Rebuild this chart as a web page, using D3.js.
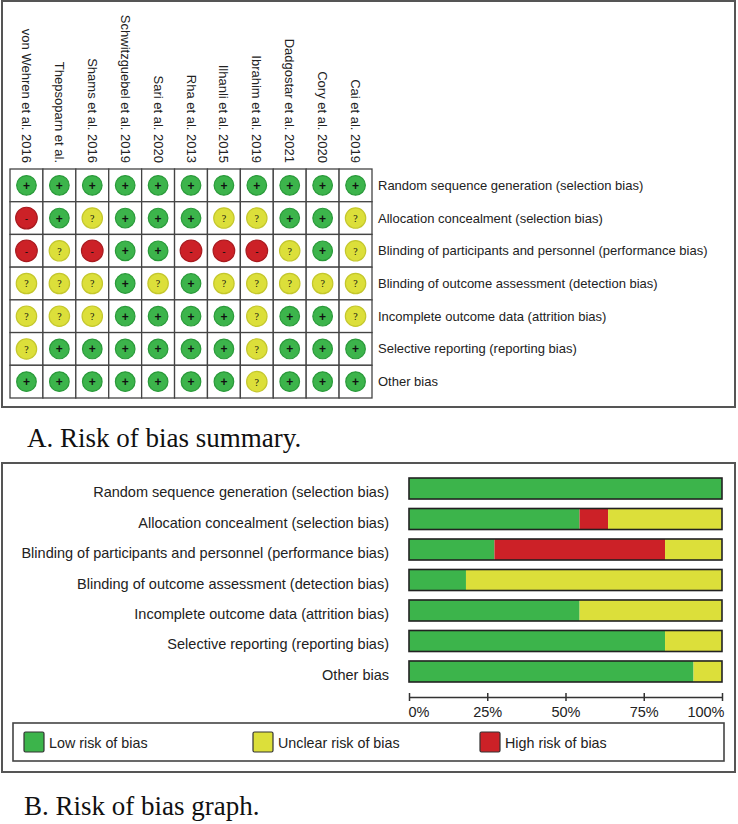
<!DOCTYPE html>
<html>
<head>
<meta charset="utf-8">
<script src="https://cdn.jsdelivr.net/npm/d3@7/dist/d3.min.js"></script>
<style>
  html, body { margin: 0; padding: 0; background: #fff; }
  svg { display: block; }
</style>
</head>
<body>
<svg id="chart" width="738" height="824"></svg>
<script>
const studies = [
  'von Wehren et al. 2016', 'Thepsoparn et al.', 'Shams et al. 2016',
  'Schwitzguebel et al. 2019', 'Sari et al. 2020', 'Rha et al. 2013',
  'Ilhanli et al. 2015', 'Ibrahim et al. 2019', 'Dadgostar et al. 2021',
  'Cory et al. 2020', 'Cai et al. 2019'
];

const domains = [
  'Random sequence generation (selection bias)',
  'Allocation concealment (selection bias)',
  'Blinding of participants and personnel (performance bias)',
  'Blinding of outcome assessment (detection bias)',
  'Incomplete outcome data (attrition bias)',
  'Selective reporting (reporting bias)',
  'Other bias'
];

// one row per domain, one entry per study: + low, ? unclear, - high
const judgements = [
  ['+', '+', '+', '+', '+', '+', '+', '+', '+', '+', '+'],
  ['-', '+', '?', '+', '+', '+', '?', '?', '+', '+', '?'],
  ['-', '?', '-', '+', '+', '-', '-', '-', '?', '+', '?'],
  ['?', '?', '?', '+', '?', '+', '?', '?', '?', '?', '?'],
  ['?', '?', '?', '+', '+', '+', '+', '?', '+', '+', '?'],
  ['?', '+', '+', '+', '+', '+', '+', '?', '+', '+', '+'],
  ['+', '+', '+', '+', '+', '+', '+', '?', '+', '+', '+']
];

// percentages
const lowPct     = [100, 54.5, 27.3, 18.2, 54.5, 81.8, 90.9];
const highPct    = [0,    9.1, 54.5,  0,    0,    0,    0  ];
const unclearPct = [0,   36.4, 18.2, 81.8, 45.5, 18.2,  9.1];

const axisTicks  = [0, 25, 50, 75, 100];
const legendKeys = ['Low risk of bias', 'Unclear risk of bias', 'High risk of bias'];

const GREEN = '#3cb44b', YELLOW = '#dcdf3a', RED = '#cc2127';
const SANS  = 'Arial, "Liberation Sans", sans-serif';
const SERIF = '"Times New Roman", "Liberation Serif", serif';

const svg = d3.select('#chart');

// ---------- A. summary ----------
const gA = svg.append('g');

gA.append('rect')
  .attr('x', 2).attr('y', 1).attr('width', 733).attr('height', 406)
  .attr('fill', 'none').attr('stroke', '#555').attr('stroke-width', 2);

const xs = d3.scaleBand().domain(studies).range([10, 372]);
const ys = d3.scaleBand().domain(domains).range([169, 398]);

gA.selectAll('.study')
  .data(studies)
  .join('text')
  .attr('class', 'study')
  .attr('transform', d => `translate(${xs(d) + xs.bandwidth() / 2},163) rotate(90)`)
  .attr('text-anchor', 'end')
  .attr('dominant-baseline', 'central')
  .attr('font-family', SANS).attr('font-size', 13).attr('fill', '#222')
  .text(d => d);

const cells = judgements.flatMap((row, i) =>
  row.map((j, k) => ({ domain: domains[i], study: studies[k], j })));

const symColor = { '+': GREEN, '?': YELLOW, '-': RED };
const symRim   = { '+': '#2a9a3a', '?': '#c4c72c', '-': '#a81a1f' };
const symR     = { '+': 9.8, '?': 10.2, '-': 10.8 };

const cellG = gA.selectAll('.cell')
  .data(cells)
  .join('g')
  .attr('class', 'cell')
  .attr('transform', d => `translate(${xs(d.study)},${ys(d.domain)})`);

cellG.append('rect')
  .attr('width', xs.bandwidth()).attr('height', ys.bandwidth())
  .attr('fill', '#fff').attr('stroke', '#444').attr('stroke-width', 1.3);

cellG.append('circle')
  .attr('cx', xs.bandwidth() / 2).attr('cy', ys.bandwidth() / 2)
  .attr('r', d => symR[d.j])
  .attr('fill', d => symColor[d.j])
  .attr('stroke', d => symRim[d.j]).attr('stroke-width', 1.2);

cellG.append('text')
  .attr('x', xs.bandwidth() / 2).attr('y', ys.bandwidth() / 2 + 0.5)
  .attr('text-anchor', 'middle').attr('dominant-baseline', 'central')
  .attr('font-family', d => d.j === '?' ? SERIF : SANS)
  .attr('font-weight', d => d.j === '+' ? 'bold' : 'normal')
  .attr('font-size', d => d.j === '+' ? 12 : 10)
  .attr('fill', '#111')
  .text(d => d.j);

gA.selectAll('.dom')
  .data(domains)
  .join('text')
  .attr('class', 'dom')
  .attr('x', 378).attr('y', d => ys(d) + ys.bandwidth() / 2)
  .attr('dominant-baseline', 'central')
  .attr('font-family', SANS).attr('font-size', 13).attr('fill', '#222')
  .text(d => d);

svg.append('text')
  .attr('x', 27).attr('y', 447)
  .attr('font-family', SERIF).attr('font-size', 27).attr('fill', '#111')
  .text('A. Risk of bias summary.');

// ---------- B. graph ----------
const gB = svg.append('g');

gB.append('rect')
  .attr('x', 2).attr('y', 463).attr('width', 733).attr('height', 309)
  .attr('fill', 'none').attr('stroke', '#555').attr('stroke-width', 2);

const xb = d3.scaleLinear().domain([0, 100]).range([409, 722]);
const yb = d3.scaleBand().domain(domains).range([473.25, 686.75])
  .paddingInner(0.311).paddingOuter(0.156);

const segs = domains.flatMap((d, i) => {
  const parts = [[lowPct[i], GREEN], [highPct[i], RED], [unclearPct[i], YELLOW]];
  let acc = 0;
  return parts.filter(p => p[0] > 0).map(([v, c]) => {
    const s = { domain: d, x0: acc, x1: acc + v, color: c };
    acc += v;
    return s;
  });
});

gB.selectAll('.seg')
  .data(segs)
  .join('rect')
  .attr('class', 'seg')
  .attr('x', d => xb(d.x0)).attr('y', d => yb(d.domain))
  .attr('width', d => xb(d.x1) - xb(d.x0)).attr('height', yb.bandwidth())
  .attr('fill', d => d.color);

gB.selectAll('.barframe')
  .data(domains)
  .join('rect')
  .attr('class', 'barframe')
  .attr('x', xb(0)).attr('y', d => yb(d))
  .attr('width', xb(100) - xb(0)).attr('height', yb.bandwidth())
  .attr('fill', 'none').attr('stroke', '#222').attr('stroke-width', 1.6);

gB.selectAll('.blab')
  .data(domains)
  .join('text')
  .attr('class', 'blab')
  .attr('x', 389).attr('y', d => yb(d) + yb.bandwidth() / 2 + 8.5)
  .attr('text-anchor', 'end')
  .attr('font-family', SANS).attr('font-size', 14.5).attr('fill', '#222')
  .text(d => d);

const axis = d3.axisBottom(xb)
  .tickValues(axisTicks)
  .tickFormat(d => d + '%')
  .tickSizeInner(4).tickSizeOuter(0);

const axG = gB.append('g')
  .attr('transform', 'translate(0,697)')
  .call(axis);
axG.select('.domain').attr('stroke', '#333').attr('stroke-width', 1.5);
axG.selectAll('.tick line').attr('y1', -4).attr('stroke', '#333').attr('stroke-width', 1.5);
axG.selectAll('.tick text')
  .attr('y', 20).attr('dy', 0)
  .attr('font-family', SANS).attr('font-size', 14.5).attr('fill', '#222');
axG.selectAll('.tick').filter(d => d === 100).select('text').attr('text-anchor', 'end').attr('x', 2);
axG.selectAll('.tick').filter(d => d === 0).select('text').attr('text-anchor', 'start').attr('x', -1);

gB.append('rect')
  .attr('x', 13).attr('y', 723).attr('width', 711).attr('height', 38)
  .attr('fill', 'none').attr('stroke', '#444').attr('stroke-width', 1.6);

const legX = d3.scaleOrdinal().domain(legendKeys).range([24, 253, 480]);
const legC = d3.scaleOrdinal().domain(legendKeys).range([GREEN, YELLOW, RED]);

const leg = gB.selectAll('.leg')
  .data(legendKeys)
  .join('g')
  .attr('class', 'leg')
  .attr('transform', d => `translate(${legX(d)},732)`);

leg.append('rect')
  .attr('width', 20).attr('height', 20).attr('rx', 1.5)
  .attr('fill', d => legC(d)).attr('stroke', '#333').attr('stroke-width', 1.2);

leg.append('text')
  .attr('x', 25).attr('y', 16)
  .attr('font-family', SANS).attr('font-size', 14.3).attr('fill', '#222')
  .text(d => d);

svg.append('text')
  .attr('x', 24).attr('y', 815)
  .attr('font-family', SERIF).attr('font-size', 27).attr('fill', '#111')
  .text('B. Risk of bias graph.');
</script>
</body>
</html>
